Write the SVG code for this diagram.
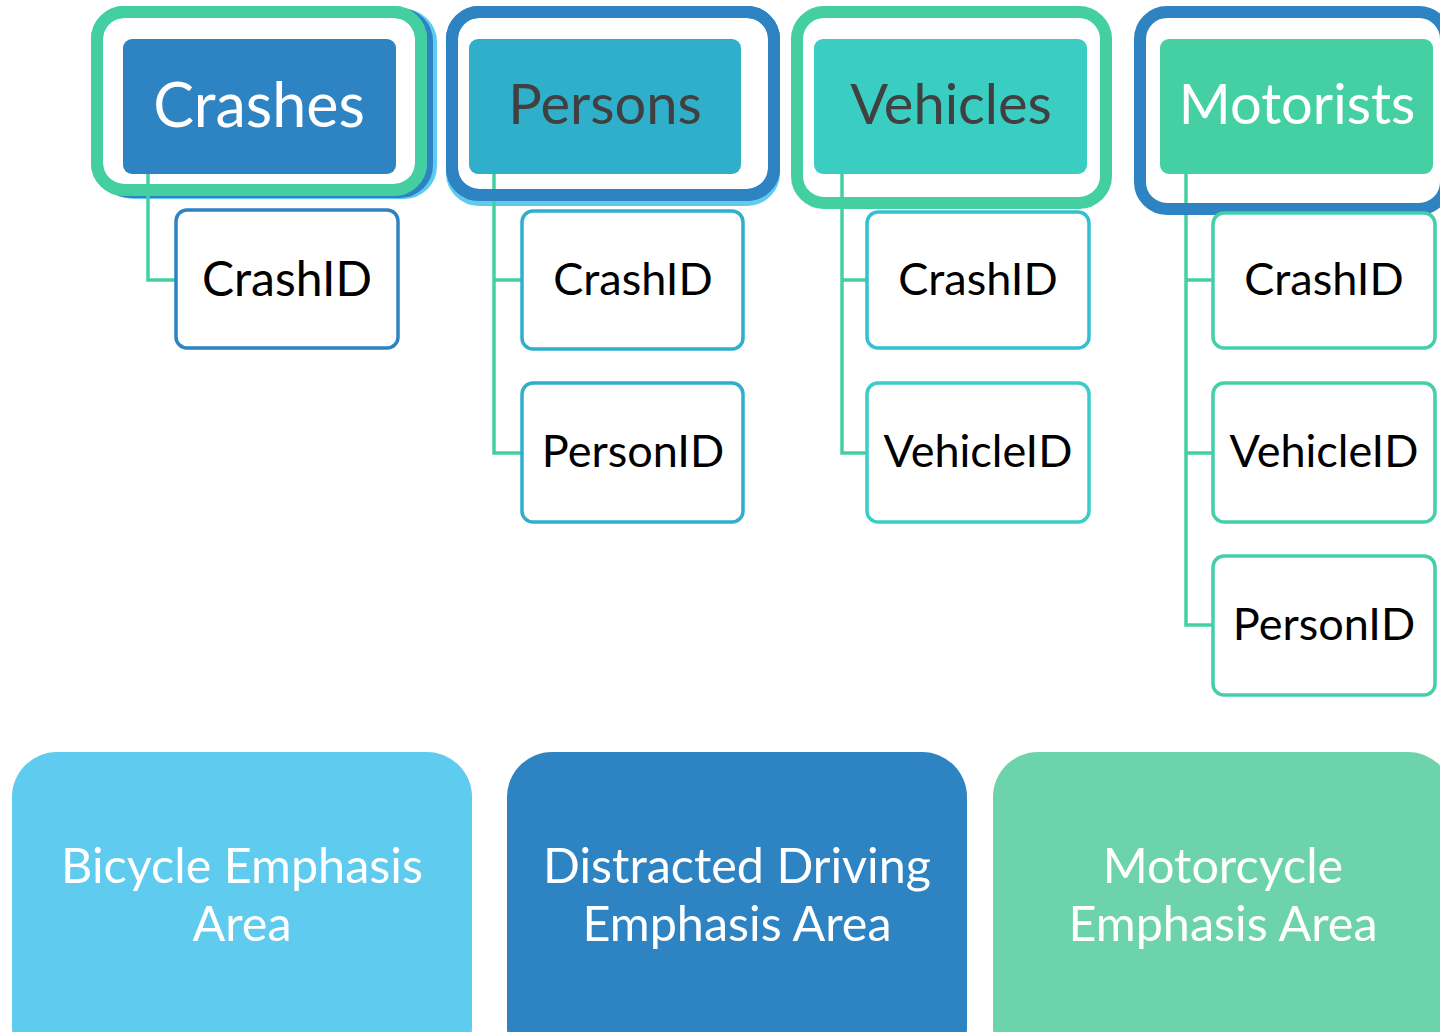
<svg xmlns="http://www.w3.org/2000/svg" width="1440" height="1032" viewBox="0 0 1440 1032">
<style>
.ring{fill:none;stroke-width:12}
.top{fill:#fff}
.hdr{font-family:Lato,"Liberation Sans",sans-serif;text-anchor:middle}
.id{font-family:Lato,"Liberation Sans",sans-serif;font-size:45px;fill:#000;text-anchor:middle}
.child{fill:#fff;stroke-width:3.5}
.conn{fill:none;stroke:#44CFA2;stroke-width:3.5}
.area{font-family:Lato,"Liberation Sans",sans-serif;font-size:48.5px;fill:#fff;text-anchor:middle}
</style>
<rect width="1440" height="1032" fill="#fff"/>
<g id="crashes-frame">
<rect class="ring" x="107" y="15" width="324" height="178" rx="27" stroke="#5FCBEE"/>
<rect class="ring" x="103" y="14" width="324" height="178" rx="27" stroke="#2E83C3"/>
<rect class="ring top" x="97" y="12" width="324" height="178" rx="27" stroke="#44CFA2"/>
</g>
<g id="persons-frame">
<rect class="ring" x="452" y="17" width="322" height="183" rx="27" stroke="#5FCBEE"/>
<rect class="ring top" x="452" y="12" width="322" height="183" rx="27" stroke="#2E83C3"/>
</g>
<g id="connectors">
<path class="conn" d="M148,174 V280 H176"/>
<path class="conn" d="M494,174 V453 H522 M494,280 H522"/>
<path class="conn" d="M842,174 V453 H867 M842,280 H867"/>
<path class="conn" d="M1186,174 V625 H1213 M1186,280 H1213 M1186,453 H1213"/>
</g>
<g id="crashes">
<rect class="ring" x="97" y="12" width="324" height="178" rx="27" stroke="#44CFA2"/>
<rect x="123" y="39" width="273" height="135" rx="9" fill="#2E83C3"/>
<text class="hdr" x="259" y="127" font-size="61" fill="#fff">Crashes</text>
</g>
<g id="crashes-crashid">
<rect class="child" x="176" y="210" width="222" height="138" rx="11" stroke="#2E83C3"/>
<text class="id" x="287" y="296" style="font-size:48px">CrashID</text>
</g>
<g id="persons">
<rect class="ring" x="452" y="12" width="322" height="183" rx="27" stroke="#2E83C3"/>
<rect x="469" y="39" width="272" height="135" rx="9" fill="#30AFCB"/>
<text class="hdr" x="605" y="124" font-size="56" fill="#404040">Persons</text>
</g>
<g id="persons-crashid">
<rect class="child" x="522" y="211" width="221" height="138" rx="11" stroke="#30AFCB"/>
<text class="id" x="633" y="295">CrashID</text>
</g>
<g id="persons-personid">
<rect class="child" x="522" y="383" width="221" height="139" rx="11" stroke="#30AFCB"/>
<text class="id" x="633" y="467">PersonID</text>
</g>
<g id="vehicles">
<rect class="ring" x="797" y="12" width="309" height="191" rx="27" stroke="#44CFA2"/>
<rect x="814" y="39" width="273" height="135" rx="9" fill="#3ACDC2"/>
<text class="hdr" x="951" y="124" font-size="56" fill="#404040">Vehicles</text>
</g>
<g id="vehicles-crashid">
<rect class="child" x="867" y="212" width="222" height="136" rx="11" stroke="#35C0D2"/>
<text class="id" x="978" y="295">CrashID</text>
</g>
<g id="vehicles-vehicleid">
<rect class="child" x="867" y="383" width="222" height="139" rx="11" stroke="#3ACDC8"/>
<text class="id" x="978" y="467">VehicleID</text>
</g>
<g id="motorists">
<rect class="ring" x="1140" y="12" width="306" height="197" rx="27" stroke="#2E83C3"/>
<rect x="1160" y="39" width="273" height="135" rx="9" fill="#44D0A2"/>
<text class="hdr" x="1297" y="124" font-size="56" fill="#fff">Motorists</text>
</g>
<g id="motorists-crashid">
<rect class="child" x="1213" y="213" width="222" height="135" rx="11" stroke="#44CFA8"/>
<text class="id" x="1324" y="295">CrashID</text>
</g>
<g id="motorists-vehicleid">
<rect class="child" x="1213" y="383" width="222" height="139" rx="11" stroke="#44CFA8"/>
<text class="id" x="1324" y="467">VehicleID</text>
</g>
<g id="motorists-personid">
<rect class="child" x="1213" y="556" width="222" height="139" rx="11" stroke="#44CFA8"/>
<text class="id" x="1324" y="640">PersonID</text>
</g>
<g id="bicycle">
<rect x="12" y="752" width="460" height="320" rx="45" fill="#5FCBEE"/>
<text class="area" x="242" y="883">Bicycle Emphasis</text>
<text class="area" x="242" y="941">Area</text>
</g>
<g id="distracted">
<rect x="507" y="752" width="460" height="320" rx="45" fill="#2E83C3"/>
<text class="area" x="737" y="883">Distracted Driving</text>
<text class="area" x="737" y="941">Emphasis Area</text>
</g>
<g id="motorcycle">
<rect x="993" y="752" width="460" height="320" rx="45" fill="#6DD3AC"/>
<text class="area" x="1223" y="883">Motorcycle</text>
<text class="area" x="1223" y="941">Emphasis Area</text>
</g>
</svg>
